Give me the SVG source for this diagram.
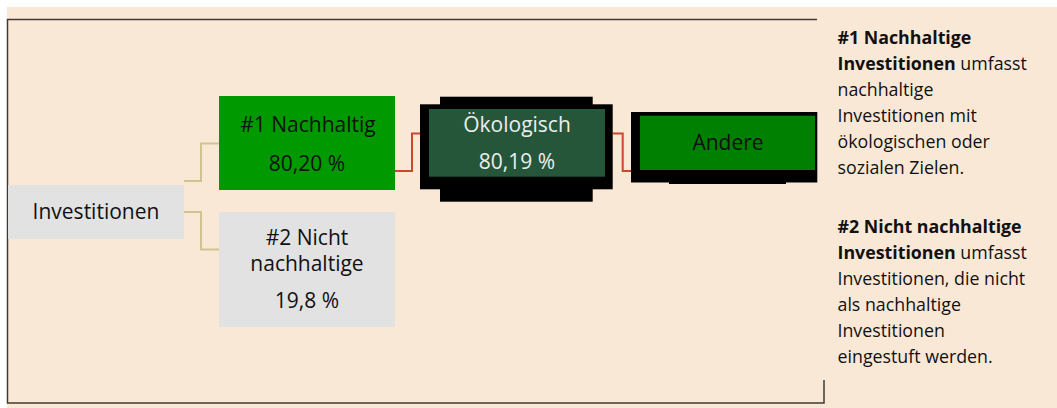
<svg xmlns="http://www.w3.org/2000/svg" width="1057" height="408" viewBox="0 0 1057 408">
<style>
.t{font-family:"Open Sans","Liberation Sans",sans-serif;fill:#111;}
.n{font-size:21px;text-anchor:middle;}
.d{font-size:17.8px;}
.b{font-weight:bold;}
.tan{fill:none;stroke:#CFC491;stroke-width:2;}
.red{fill:none;stroke:#C9492B;stroke-width:2;}
.grey{fill:#E2E2E2;}
</style>
<rect x="0" y="0" width="1057" height="408" fill="#FFFFFF"/>
<rect x="7" y="7" width="1050" height="401" fill="#FAE8D7"/>
<g id="frame" fill="none" stroke="#3E3A36" stroke-width="1.5">
<path d="M817,19.5 H7.5 V403 H824 V380"/>
</g>
<g id="connectors">
<path class="tan" d="M184,181 H201 V143.5 H219"/>
<path class="tan" d="M184,212 H201 V249.5 H219"/>
<path class="red" d="M395,171 H412 V133.5 H421"/>
<path class="red" d="M612.7,133.5 H622.7 V171 H632"/>
</g>
<g id="investitionen">
<rect class="grey" x="8" y="185" width="176" height="54"/>
<text class="t n" x="96" y="219">Investitionen</text>
</g>
<g id="nachhaltig">
<rect x="219" y="96" width="176" height="94" fill="#009900"/>
<text class="t n" x="308" y="132">#1 Nachhaltig</text>
<text class="t n" x="307" y="171">80,20 %</text>
</g>
<g id="nicht-nachhaltig">
<rect class="grey" x="219" y="212" width="176" height="115"/>
<text class="t n" x="307" y="245">#2 Nicht</text>
<text class="t n" x="307" y="271">nachhaltige</text>
<text class="t n" x="307" y="308">19,8 %</text>
</g>
<g id="oekologisch">
<rect x="420" y="104.3" width="192.7" height="85" fill="#000"/>
<rect x="440" y="96.7" width="152.7" height="105" fill="#000"/>
<rect x="429" y="109" width="176" height="67.7" fill="#26563A"/>
<text class="t n" x="517" y="132" style="fill:#EDEDED">Ökologisch</text>
<text class="t n" x="517" y="168.5" style="fill:#EDEDED">80,19 %</text>
</g>
<g id="andere">
<rect x="631" y="112" width="186.3" height="70.5" fill="#000"/>
<rect x="669" y="180" width="117" height="4" fill="#000"/>
<rect x="640" y="115.7" width="175" height="54.3" fill="#008000"/>
<text class="t n" x="728" y="150">Andere</text>
</g>
<g id="legend">
<text class="t d" x="837.5" y="43.5"><tspan class="b">#1 Nachhaltige</tspan></text>
<text class="t d" x="837.5" y="69.5"><tspan class="b">Investitionen</tspan> umfasst</text>
<text class="t d" x="837.5" y="95.5">nachhaltige</text>
<text class="t d" x="837.5" y="121.5">Investitionen mit</text>
<text class="t d" x="837.5" y="147.5">ökologischen oder</text>
<text class="t d" x="837.5" y="173.5">sozialen Zielen.</text>
<text class="t d" x="837.5" y="232.7"><tspan class="b">#2 Nicht nachhaltige</tspan></text>
<text class="t d" x="837.5" y="258.7"><tspan class="b">Investitionen</tspan> umfasst</text>
<text class="t d" x="837.5" y="284.7">Investitionen, die nicht</text>
<text class="t d" x="837.5" y="310.7">als nachhaltige</text>
<text class="t d" x="837.5" y="336.7">Investitionen</text>
<text class="t d" x="837.5" y="362.7">eingestuft werden.</text>
</g>
</svg>
